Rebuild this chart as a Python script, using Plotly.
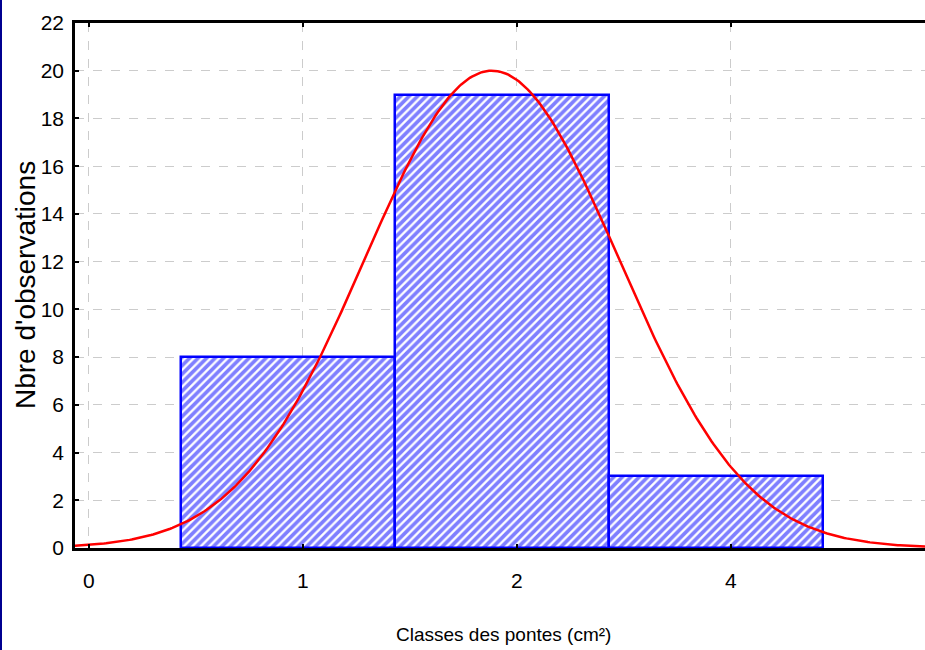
import numpy as np
import plotly.graph_objects as go

# Data
tick_positions = [0, 1, 2, 3]
tick_labels = ["0", "1", "2", "4"]
bar_left_edges = [0.43, 1.43, 2.43]
bar_counts = [8, 19, 3]
bar_width = 1.0
# fitted normal curve parameters
curve_mean = 1.883
curve_sd = 0.593
curve_peak = 20.0
y_ticks = list(range(0, 23, 2))
x_title = "Classes des pontes (cm²)"
y_title = "Nbre d'observations"

bar_centers = [e + bar_width / 2 for e in bar_left_edges]
xs = np.linspace(-0.07, 3.92, 400)
ys = curve_peak * np.exp(-((xs - curve_mean) ** 2) / (2 * curve_sd ** 2))

W, H = 925, 650
L, R, T, B = 75, 0, 23, 102
pw, ph = W - L - R, H - T - B

fig = go.Figure()
fig.add_trace(go.Bar(
    x=bar_centers, y=bar_counts, width=bar_width,
    marker=dict(color="white",
                line=dict(color="#0000ff", width=2.5),
                pattern=dict(shape="/", fgcolor="#0000ff", bgcolor="white",
                             size=6, solidity=0.62)),
    showlegend=False,
))
fig.add_trace(go.Scatter(x=xs, y=ys, mode="lines",
                         line=dict(color="#ff0000", width=2.5),
                         showlegend=False))

font = "Liberation Sans, Arial"
fig.update_layout(
    width=W, height=H,
    margin=dict(l=L, r=R, t=T, b=B, autoexpand=False),
    paper_bgcolor="white", plot_bgcolor="white",
    bargap=0,
    font=dict(family=font, color="black", size=20),
    xaxis=dict(range=[-0.065, 3.907], tickvals=tick_positions, ticktext=tick_labels,
               showgrid=True, gridcolor="#cccccc", griddash="dash", gridwidth=1,
               showline=True, linecolor="black", linewidth=3, mirror="ticks",
               ticks="inside", ticklen=4, tickcolor="black", tickwidth=2,
               zeroline=False, ticklabelstandoff=12,
               tickfont=dict(family=font, size=21)),
    yaxis=dict(range=[0, 22], tickvals=y_ticks,
               showgrid=True, gridcolor="#cccccc", griddash="dash", gridwidth=1,
               showline=True, linecolor="black", linewidth=2.5,
               ticks="inside", ticklen=4, tickcolor="black", tickwidth=2,
               zeroline=False, ticklabelstandoff=4,
               tickfont=dict(family=font, size=21)),
)
fig.add_annotation(text=y_title, xref="paper", yref="paper",
                   x=(25 - L) / pw, y=(H - B - 285) / ph, textangle=-90,
                   showarrow=False, xanchor="center", yanchor="middle",
                   font=dict(family=font, size=28, color="black"))
fig.add_annotation(text=x_title, xref="paper", yref="paper",
                   x=(503 - L) / pw, y=-(634 - (H - B)) / ph,
                   showarrow=False, xanchor="center", yanchor="middle",
                   font=dict(family=font, size=19, color="black"))
fig.add_shape(type="rect", xref="paper", yref="paper", x0=-L / pw, x1=(2 - L) / pw,
              y0=-B / ph, y1=1 + T / ph, fillcolor="#000090", line_width=0, layer="above")
fig.write_html("out.html", config={"displayModeBar": False},
               post_script="document.body.style.margin='0';document.body.style.padding='0';")
